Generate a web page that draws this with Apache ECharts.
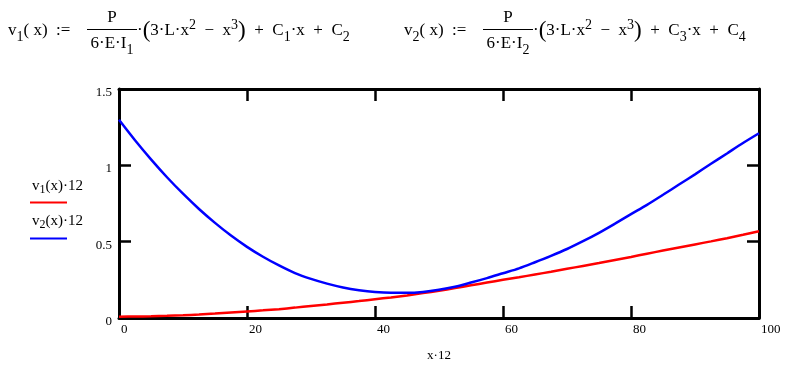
<!DOCTYPE html>
<html><head><meta charset="utf-8">
<script src="https://cdn.jsdelivr.net/npm/echarts@6/dist/echarts.min.js"></script>
<style>html,body{margin:0;padding:0;background:#fff}#c{width:788px;height:380px}</style>
</head><body><div id="c"></div>
<script>
// x·12 sample positions
const xValues = [0,2.5,5,7.5,10,12.5,15,17.5,20,22.5,25,27.5,30,32.5,35,37.5,40,42.5,45,47.5,50,52.5,55,57.5,60,62.5,65,67.5,70,72.5,75,77.5,80,82.5,85,87.5,90,92.5,95,97.5,100];
// v1(x)·12 (red)
const v1Values = [0.009,0.010,0.011,0.014,0.018,0.023,0.029,0.036,0.043,0.050,0.058,0.068,0.079,0.089,0.100,0.111,0.123,0.135,0.148,0.163,0.179,0.196,0.214,0.232,0.250,0.267,0.285,0.303,0.322,0.341,0.360,0.380,0.400,0.421,0.442,0.462,0.482,0.502,0.523,0.545,0.568];
// v2(x)·12 (blue)
const v2Values = [1.298,1.164,1.039,0.922,0.814,0.714,0.623,0.540,0.466,0.401,0.344,0.294,0.256,0.225,0.200,0.182,0.170,0.165,0.165,0.171,0.185,0.205,0.232,0.261,0.293,0.325,0.365,0.407,0.452,0.503,0.558,0.618,0.680,0.741,0.807,0.874,0.941,1.010,1.078,1.146,1.210];
const xTicks = [0,20,40,60,80,100];
const yTicks = [0,0.5,1,1.5];
const xAxisTitle = 'x·12';
const legendSub = ['1','2'];
const seriesColors = ['#ff0000','#0000ff'];

const FF = '"Liberation Serif","Times New Roman",serif';
const chart = echarts.init(document.getElementById('c'), null, {renderer:'canvas'});

function pairs(vals){ return xValues.map((x,i)=>[x, vals[i]]); }

const richF = {
  m:{fontFamily:FF,fontSize:17,lineHeight:26,verticalAlign:'middle'},
  p:{fontFamily:FF,fontSize:23,lineHeight:26,verticalAlign:'middle'},
  sub:{fontFamily:FF,fontSize:14,lineHeight:26,verticalAlign:'bottom'},
  sup:{fontFamily:FF,fontSize:14,lineHeight:26,verticalAlign:'top'}
};
const richL = {
  m:{fontFamily:FF,fontSize:15,lineHeight:20,verticalAlign:'middle'},
  sub:{fontFamily:FF,fontSize:12,lineHeight:20,verticalAlign:'bottom'}
};

function formula(x0, idx, ca, cb){
  const fracL = x0 + 79, fracR = x0 + 129, fracC = (fracL+fracR)/2;
  return [
    {type:'text', x:x0, y:31, style:{text:'{m|v}{sub|'+idx+'}{m|( x)  :=}', rich:richF, fill:'#000', verticalAlign:'middle', align:'left', font:'17px '+FF}},
    {type:'text', x:fracC, y:18, style:{text:'P', fill:'#000', font:'17px '+FF, align:'center', verticalAlign:'middle'}},
    {type:'line', shape:{x1:fracL, y1:29.5, x2:fracR, y2:29.5}, style:{stroke:'#000', lineWidth:1.2}},
    {type:'text', x:fracC, y:44, style:{text:'{m|6·E·I}{sub|'+idx+'}', rich:richF, fill:'#000', align:'center', verticalAlign:'middle', font:'17px '+FF}},
    {type:'text', x:fracR, y:31, style:{text:'{m|·}{p|(}{m|3·L·x}{sup|2}{m|  −  x}{sup|3}{p|)}{m|  +  C}{sub|'+ca+'}{m|·x  +  C}{sub|'+cb+'}', rich:richF, fill:'#000', align:'left', verticalAlign:'middle', font:'17px '+FF}}
  ];
}

const graphics = [].concat(
  formula(8, '1', '1', '2'),
  formula(404, '2', '3', '4'),
  [
    {type:'text', x:32, y:186, style:{text:'{m|v}{sub|'+legendSub[0]+'}{m|(x)·12}', rich:richL, fill:'#000', align:'left', verticalAlign:'middle', font:'15px '+FF}},
    {type:'line', shape:{x1:30, y1:202.5, x2:67, y2:202.5}, style:{stroke:seriesColors[0], lineWidth:2}},
    {type:'text', x:32, y:221, style:{text:'{m|v}{sub|'+legendSub[1]+'}{m|(x)·12}', rich:richL, fill:'#000', align:'left', verticalAlign:'middle', font:'15px '+FF}},
    {type:'line', shape:{x1:30, y1:238.5, x2:67, y2:238.5}, style:{stroke:seriesColors[1], lineWidth:2}}
  ]
);

function axisLineStyle(){ return {show:true, onZero:false, lineStyle:{color:'#000', width:3}}; }
function tickStyle(){ return {show:true, inside:true, length:12, lineStyle:{color:'#000', width:2.5}}; }

chart.setOption({
  animation:false,
  backgroundColor:'#fff',
  grid:{left:119, right:29, top:89, bottom:62, containLabel:false},
  xAxis:[
    {type:'value', min:xTicks[0], max:xTicks[xTicks.length-1], interval:xTicks[1]-xTicks[0], position:'bottom',
     axisLine:axisLineStyle(), axisTick:tickStyle(), splitLine:{show:false},
     axisLabel:{color:'#000', fontFamily:FF, fontSize:13, align:'left', margin:5, padding:[0,0,0,2]},
     name:xAxisTitle, nameLocation:'middle', nameGap:31, nameTextStyle:{color:'#000', fontFamily:FF, fontSize:13}},
    {type:'value', min:xTicks[0], max:xTicks[xTicks.length-1], interval:xTicks[1]-xTicks[0], position:'top',
     axisLine:axisLineStyle(), axisTick:tickStyle(), axisLabel:{show:false}, splitLine:{show:false}}
  ],
  yAxis:[
    {type:'value', min:yTicks[0], max:yTicks[yTicks.length-1], interval:yTicks[1]-yTicks[0], position:'left',
     axisLine:axisLineStyle(), axisTick:tickStyle(), splitLine:{show:false},
     axisLabel:{color:'#000', fontFamily:FF, fontSize:13, margin:7, verticalAlign:'top', lineHeight:7}},
    {type:'value', min:yTicks[0], max:yTicks[yTicks.length-1], interval:yTicks[1]-yTicks[0], position:'right',
     axisLine:axisLineStyle(), axisTick:tickStyle(), axisLabel:{show:false}, splitLine:{show:false}}
  ],
  series:[
    {name:'v1(x)·12', type:'line', data:pairs(v1Values), showSymbol:false, smooth:0.3, lineStyle:{color:seriesColors[0], width:2.5}, itemStyle:{color:seriesColors[0]}, z:3},
    {name:'v2(x)·12', type:'line', data:pairs(v2Values), showSymbol:false, smooth:0.3, lineStyle:{color:seriesColors[1], width:2.5}, itemStyle:{color:seriesColors[1]}, z:4}
  ],
  graphic:graphics
});
</script></body></html>
